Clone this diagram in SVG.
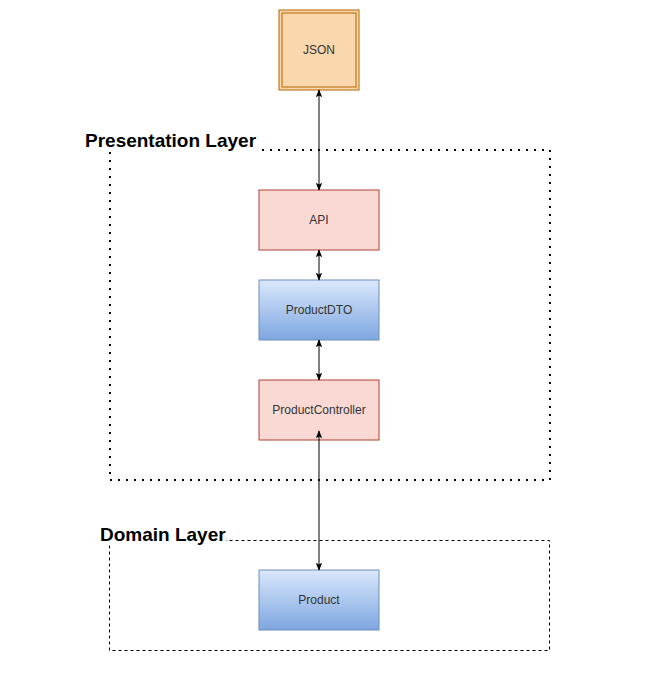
<svg xmlns="http://www.w3.org/2000/svg" width="655" height="675" viewBox="0 0 655 675">
<style>
.lbl{font-family:"Liberation Sans",Arial,sans-serif;font-size:12px;fill:#333;text-anchor:middle;dominant-baseline:central}
.title{font-family:"Liberation Sans",Arial,sans-serif;font-size:19px;font-weight:bold;fill:#000}
.red{fill:#fad9d5;stroke:#ae4132;stroke-width:1}
.blue{fill:url(#gb);stroke:#6c8ebf;stroke-width:1}
.conn{stroke:#000;stroke-width:1;fill:none;marker-start:url(#ah);marker-end:url(#ah)}
</style>
<defs>
<linearGradient id="gb" x1="0" y1="0" x2="0" y2="1">
<stop offset="0" stop-color="#dae8fc"/>
<stop offset="1" stop-color="#7ea6e0"/>
</linearGradient>
<marker id="ah" viewBox="0 0 10 10" refX="9" refY="5" markerWidth="8" markerHeight="8" orient="auto-start-reverse" markerUnits="userSpaceOnUse">
<path d="M0,1 L10,5 L0,9 L2,5 Z" fill="#000"/>
</marker>
</defs>
<rect width="655" height="675" fill="#fff"/>
<g id="presentation-layer">
<rect x="110" y="150" width="440" height="330" fill="none" stroke="#000" stroke-width="2" stroke-dasharray="2 6"/>
<rect x="83" y="127" width="174" height="25" fill="#fff"/>
<text class="title" x="85" y="147">Presentation Layer</text>
</g>
<g id="domain-layer">
<rect x="109.5" y="540.5" width="440" height="110" fill="none" stroke="#000" stroke-width="1" stroke-dasharray="3 3"/>
<rect x="98" y="522" width="128" height="23" fill="#fff"/>
<text class="title" x="100" y="541">Domain Layer</text>
</g>
<g id="json">
<rect x="279" y="10" width="80" height="80" fill="#fad7ac" stroke="#b46504" stroke-width="1"/>
<rect x="282" y="13" width="74" height="74" fill="none" stroke="#b46504" stroke-width="1"/>
<text class="lbl" x="319" y="50">JSON</text>
</g>
<g id="api">
<rect class="red" x="259" y="190" width="120" height="60"/>
<text class="lbl" x="319" y="220">API</text>
</g>
<g id="productdto">
<rect class="blue" x="259" y="280" width="120" height="60"/>
<text class="lbl" x="319" y="310">ProductDTO</text>
</g>
<g id="productcontroller">
<rect class="red" x="259" y="380" width="120" height="60"/>
<text class="lbl" x="319" y="410">ProductController</text>
</g>
<g id="product">
<rect class="blue" x="259" y="570" width="120" height="60"/>
<text class="lbl" x="319" y="600">Product</text>
</g>
<g id="connectors">
<line class="conn" x1="319" y1="90" x2="319" y2="190"/>
<line class="conn" x1="319" y1="250" x2="319" y2="280"/>
<line class="conn" x1="319" y1="340" x2="319" y2="380"/>
<line class="conn" x1="319" y1="431" x2="319" y2="570"/>
</g>
</svg>
